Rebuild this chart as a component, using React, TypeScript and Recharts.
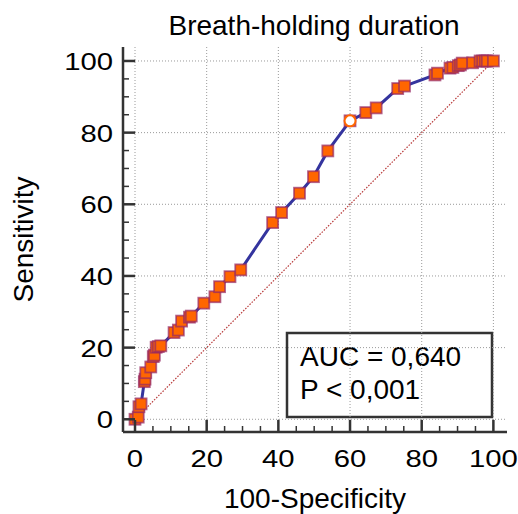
// ROC curve — breath-holding duration, squares for each criterion, dotted diagonal.
import {
  ComposedChart,
  Customized,
  Line,
  ReferenceLine,
  Scatter,
  XAxis,
  YAxis,
} from "recharts";

const FONT = "'Liberation Sans', Arial, sans-serif";

// 100 - specificity (x) and sensitivity (y) of each criterion
const spec100 = [
  0, 0.9, 1.1, 1.7, 2.6, 2.8, 3.0, 4.4, 5.1, 5.4, 5.9, 6.5, 7.2, 10.9, 12.1, 13.0, 15.2, 15.7,
  19.2, 22.3, 23.6, 26.5, 29.5, 38.4, 40.9, 45.9, 49.8, 53.8, 60.0, 64.4, 67.3, 73.3, 75.2,
  83.7, 84.4, 87.9, 88.7, 90.2, 90.8, 91.3, 94.2, 96.3, 97.0, 97.7, 98.3, 100,
];
const sensitivity = [
  0, 0.6, 3.5, 4.3, 10.5, 11.2, 13.0, 14.6, 17.5, 17.9, 20.1, 20.3, 20.5, 24.2, 24.9, 27.4, 28.5, 28.8,
  32.4, 34.2, 37.0, 39.8, 41.7, 54.9, 57.7, 63.1, 67.7, 74.9, 83.3, 85.6, 86.9, 92.3, 93.0,
  96.1, 96.6, 98.0, 98.2, 98.7, 98.9, 99.4, 99.5, 100, 100, 100, 100, 100,
];
// optimal criterion (Youden)
const bestX = [60.0];
const bestY = [83.3];

const ticks = [0, 5, 10, 15, 20, 25, 30, 35, 40, 45, 50, 55, 60, 65, 70, 75, 80, 85, 90, 95, 100];
const gridValues = [0, 20, 40, 60, 80, 100];
const AUC_TEXT = "AUC = 0,640";
const P_TEXT = "P < 0,001";

const rocData = spec100.map((x, i) => ({ x, y: sensitivity[i] }));
const bestData = bestX.map((x, i) => ({ x, y: bestY[i] }));

// tick digits in the source are drawn a bit wider than plain Arial
function TickText({ x, y, anchor, children }: any) {
  return (
    <text
      transform={`translate(${x},${y}) scale(1.22,1)`}
      textAnchor={anchor}
      fontSize={24}
      fontFamily={FONT}
      fill="#000"
    >
      {children}
    </text>
  );
}

function XTick({ x, y, payload }: any) {
  const v = payload.value as number;
  const major = v % 20 === 0;
  return (
    <g>
      <line x1={x} x2={x} y1={y} y2={y - (major ? 12 : 6)} stroke="#333" strokeWidth={major ? 2.5 : 1.5} />
      {major && <TickText x={x} y={y + 35} anchor="middle">{v}</TickText>}
    </g>
  );
}

function YTick({ x, y, payload }: any) {
  const v = payload.value as number;
  const major = v % 20 === 0;
  return (
    <g>
      <line x1={x} x2={x + (major ? 12 : 6)} y1={y} y2={y} stroke="#333" strokeWidth={major ? 2.5 : 1.5} />
      {major && <TickText x={x - 10} y={y + 9} anchor="end">{v}</TickText>}
    </g>
  );
}

function Square(p: any) {
  if (p.cx == null || p.cy == null) return <g key={p.index} />;
  return (
    <rect
      key={p.index}
      x={p.cx - 5.5}
      y={p.cy - 5.5}
      width={11}
      height={11}
      fill="#ff6600"
      stroke="rgba(150,40,100,0.7)"
      strokeWidth={1.8}
    />
  );
}

function Overlay() {
  return (
    <g fontFamily={FONT} fill="#000">
      <text x={314} y={35} textAnchor="middle" fontSize={28}>
        Breath-holding duration
      </text>
      <rect x={287} y={333} width={205} height={84} fill="#fff" stroke="#333" strokeWidth={2.5} />
      <text x={300} y={366} fontSize={28}>{AUC_TEXT}</text>
      <text x={300} y={399} fontSize={28}>{P_TEXT}</text>
    </g>
  );
}

export default function App() {
  return (
    <div style={{ position: "absolute", left: 0, top: 0, width: 518, height: 514, background: "#fff" }}>
      <ComposedChart width={518} height={514} margin={{ top: 47, right: 11, bottom: 0, left: 0 }}>
        <XAxis
          type="number"
          dataKey="x"
          domain={[-3.35, 103.8]}
          allowDataOverflow
          ticks={ticks}
          interval={0}
          height={82}
          tickSize={0}
          tickMargin={0}
          tickLine={false}
          tick={<XTick />}
          axisLine={{ stroke: "#333", strokeWidth: 2.5 }}
          label={({ viewBox }: any) => (
            <text
              x={viewBox.x + viewBox.width / 2}
              y={viewBox.y + 76}
              textAnchor="middle"
              fontSize={28}
              fontFamily={FONT}
              fill="#000"
            >
              100-Specificity
            </text>
          )}
        />
        <YAxis
          type="number"
          dataKey="y"
          domain={[-3.55, 103.9]}
          allowDataOverflow
          ticks={ticks}
          interval={0}
          width={123}
          tickSize={0}
          tickMargin={0}
          tickLine={false}
          tick={<YTick />}
          axisLine={{ stroke: "#333", strokeWidth: 2.5 }}
          label={({ viewBox }: any) => {
            const cx = 33;
            const cy = viewBox.y + viewBox.height / 2;
            return (
              <text
                x={cx}
                y={cy}
                transform={`rotate(-90 ${cx} ${cy})`}
                textAnchor="middle"
                fontSize={28}
                fontFamily={FONT}
                fill="#000"
              >
                Sensitivity
              </text>
            );
          }}
        />
        {gridValues.map((v) => (
          <ReferenceLine key={`gx${v}`} x={v} stroke="#9a9a9a" strokeDasharray="1 2" strokeWidth={1} />
        ))}
        {gridValues.map((v) => (
          <ReferenceLine key={`gy${v}`} y={v} stroke="#9a9a9a" strokeDasharray="1 2" strokeWidth={1} />
        ))}
        <ReferenceLine
          segment={[
            { x: 0, y: 0 },
            { x: 100, y: 100 },
          ]}
          stroke="#b83a3a"
          strokeDasharray="1.5 1.5"
          strokeWidth={1.2}
        />
        <Line
          data={rocData}
          dataKey="y"
          type="linear"
          stroke="#34349e"
          strokeWidth={3}
          dot={Square}
          activeDot={false}
          isAnimationActive={false}
        />
        <Scatter
          data={bestData}
          dataKey="y"
          isAnimationActive={false}
          shape={(p: any) => <circle cx={p.cx} cy={p.cy} r={5.5} fill="#fff" stroke="#ff6600" strokeWidth={2} />}
        />
        <Customized component={Overlay} />
      </ComposedChart>
    </div>
  );
}
